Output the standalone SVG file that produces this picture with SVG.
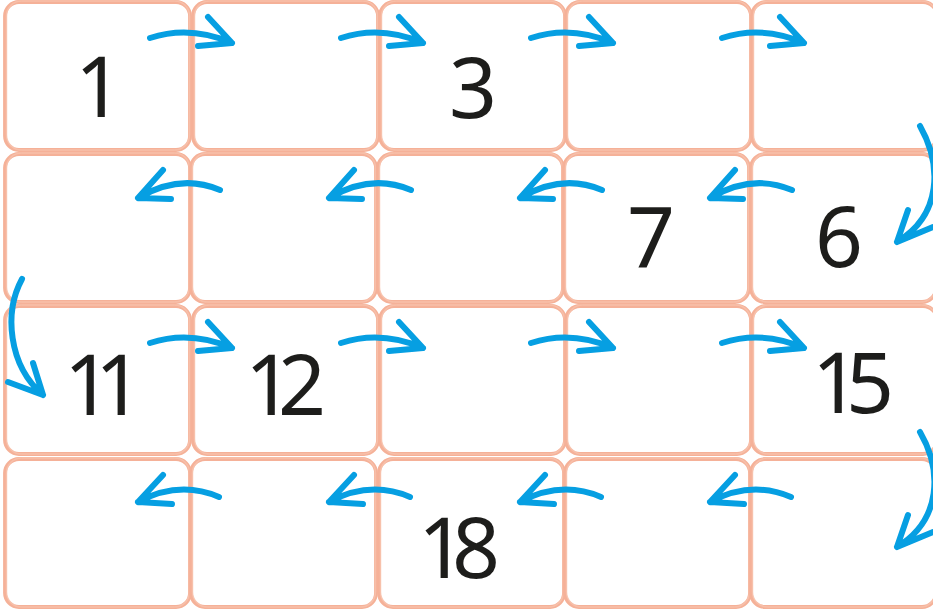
<svg xmlns="http://www.w3.org/2000/svg" width="933" height="615" viewBox="0 0 933 615">
<style>
rect.a{fill:#fff;stroke:#f5b198;stroke-width:3.8}
rect.b{fill:none;stroke:#f7c3ae;stroke-width:1.5;opacity:.8}
.num{font-family:"Noto Sans",sans-serif;font-size:84px;fill:#1d1d1b;text-anchor:middle}
#connectors path{fill:none;stroke:#069fe2;stroke-width:6;stroke-linecap:round;stroke-linejoin:round}
</style>
<rect width="933" height="615" fill="#fff"/>
<defs>
<g id="cellshape"><rect class="a" x="0" y="0" width="185" height="148" rx="14"/><rect class="b" x="1.5" y="-1" width="183" height="149" rx="15"/></g>
</defs>
<g id="c1" class="cell"><use href="#cellshape" x="5" y="2"/><text class="num" x="99" y="117">1</text></g>
<g id="c2" class="cell"><use href="#cellshape" x="193" y="2"/></g>
<g id="c3" class="cell"><use href="#cellshape" x="380" y="2"/><text class="num" x="473" y="118">3</text></g>
<g id="c4" class="cell"><use href="#cellshape" x="566" y="2"/></g>
<g id="c5" class="cell"><use href="#cellshape" x="752" y="2"/></g>
<g id="c10" class="cell"><use href="#cellshape" x="5" y="154"/></g>
<g id="c9" class="cell"><use href="#cellshape" x="191" y="154"/></g>
<g id="c8" class="cell"><use href="#cellshape" x="378" y="154"/></g>
<g id="c7" class="cell"><use href="#cellshape" x="564" y="154"/><text class="num" x="651" y="267">7</text></g>
<g id="c6" class="cell"><use href="#cellshape" x="751" y="154"/><text class="num" x="839" y="267">6</text></g>
<g id="c11" class="cell"><use href="#cellshape" x="5" y="306"/><text class="num" x="88 119" y="415">11</text></g>
<g id="c12" class="cell"><use href="#cellshape" x="193" y="306"/><text class="num" x="269 302" y="415">12</text></g>
<g id="c13" class="cell"><use href="#cellshape" x="380" y="306"/></g>
<g id="c14" class="cell"><use href="#cellshape" x="566" y="306"/></g>
<g id="c15" class="cell"><use href="#cellshape" x="752" y="306"/><text class="num" x="836 870" y="413">15</text></g>
<g id="c20" class="cell"><use href="#cellshape" x="5" y="459"/></g>
<g id="c19" class="cell"><use href="#cellshape" x="191" y="459"/></g>
<g id="c18" class="cell"><use href="#cellshape" x="379" y="459"/><text class="num" x="442 476" y="578">18</text></g>
<g id="c17" class="cell"><use href="#cellshape" x="565" y="459"/></g>
<g id="c16" class="cell"><use href="#cellshape" x="751" y="459"/></g>
<g id="connectors">
<path d="M150,38 Q190,25 232,43 M208,17 L232,43 L198,46"/>
<path d="M341,38 Q381,25 423,43 M399,17 L423,43 L389,46"/>
<path d="M531,38 Q571,25 613,43 M589,17 L613,43 L579,46"/>
<path d="M722,38 Q762,25 804,43 M780,17 L804,43 L770,46"/>
<path d="M920,126 C942,165 942,215 897,242 M908,210 L897,242 L933,227"/>
<path d="M792,190 Q752,173 710,198 M735,170 L710,198 L743,199"/>
<path d="M602,190 Q562,173 520,198 M545,170 L520,198 L553,199"/>
<path d="M411,190 Q371,173 329,198 M354,170 L329,198 L362,199"/>
<path d="M220,190 Q180,173 138,198 M163,170 L138,198 L171,199"/>
<path d="M22,279 C4,312 8,365 43,395 M33,363 L43,395 L8,382"/>
<path d="M150,343 Q190,330 232,348 M208,322 L232,348 L198,351"/>
<path d="M341,343 Q381,330 423,348 M399,322 L423,348 L389,351"/>
<path d="M531,343 Q571,330 613,348 M589,322 L613,348 L579,351"/>
<path d="M722,343 Q762,330 804,348 M780,322 L804,348 L770,351"/>
<path d="M920,432 C942,470 942,520 897,547 M908,515 L897,547 L933,532"/>
<path d="M791,497 Q751,480 710,502 M735,475 L710,502 L744,504"/>
<path d="M601,497 Q561,480 520,502 M545,475 L520,502 L554,504"/>
<path d="M410,497 Q370,480 329,502 M354,475 L329,502 L363,504"/>
<path d="M219,497 Q179,480 138,502 M163,475 L138,502 L172,504"/>
</g>
</svg>
